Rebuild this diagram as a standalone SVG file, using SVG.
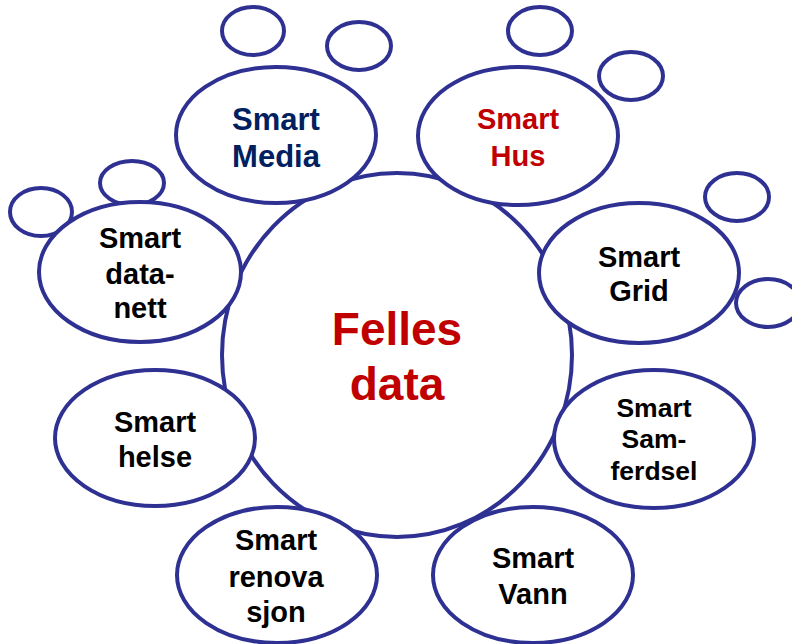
<svg xmlns="http://www.w3.org/2000/svg" width="792" height="644" viewBox="0 0 792 644">
<style>
.o{fill:#fff;stroke:#2E3192;stroke-width:4}
.t{font-family:"Liberation Sans",Arial,sans-serif;font-weight:bold;text-anchor:middle;fill:#000}
.s{font-size:29px}
</style>
<rect width="792" height="644" fill="#fff"/>
<g id="bubbles">
<ellipse class="o" cx="253" cy="31" rx="31" ry="24"/>
<ellipse class="o" cx="359" cy="46" rx="32" ry="24"/>
<ellipse class="o" cx="540" cy="31" rx="32" ry="24"/>
<ellipse class="o" cx="631" cy="76" rx="32" ry="24"/>
<ellipse class="o" cx="41" cy="212" rx="31" ry="24"/>
<ellipse class="o" cx="132" cy="183" rx="32" ry="22"/>
<ellipse class="o" cx="737" cy="197" rx="32" ry="24"/>
<ellipse class="o" cx="768" cy="303" rx="32" ry="24"/>
</g>
<g id="felles">
<ellipse class="o" cx="397" cy="355" rx="175" ry="182"/>
<text class="t" x="397" y="345" font-size="46" fill="#C00000" style="fill:#C00000">Felles</text>
<text class="t" x="397" y="400" font-size="46" style="fill:#C00000">data</text>
</g>
<g id="media">
<ellipse class="o" cx="276" cy="135" rx="100" ry="68"/>
<text class="t" x="276" y="130" font-size="31" style="fill:#002060">Smart</text>
<text class="t" x="276" y="167" font-size="31" style="fill:#002060">Media</text>
</g>
<g id="hus">
<ellipse class="o" cx="518" cy="136" rx="100" ry="69"/>
<text class="t s" x="518" y="129" style="fill:#C00000">Smart</text>
<text class="t s" x="518" y="166" style="fill:#C00000">Hus</text>
</g>
<g id="datanett">
<ellipse class="o" cx="140" cy="272" rx="101" ry="70"/>
<text class="t s" x="140" y="248">Smart</text>
<text class="t s" x="140" y="284">data-</text>
<text class="t s" x="140" y="318">nett</text>
</g>
<g id="helse">
<ellipse class="o" cx="155" cy="438" rx="100" ry="68"/>
<text class="t s" x="155" y="432">Smart</text>
<text class="t s" x="155" y="467">helse</text>
</g>
<g id="grid">
<ellipse class="o" cx="639" cy="273" rx="100" ry="70"/>
<text class="t s" x="639" y="267">Smart</text>
<text class="t s" x="639" y="301">Grid</text>
</g>
<g id="samferdsel">
<ellipse class="o" cx="654" cy="439" rx="100" ry="69"/>
<text class="t" x="654" y="417" font-size="26.5">Smart</text>
<text class="t" x="654" y="448" font-size="26.5">Sam-</text>
<text class="t" x="654" y="480" font-size="26.5">ferdsel</text>
</g>
<g id="renovasjon">
<ellipse class="o" cx="277" cy="575" rx="100" ry="68"/>
<text class="t s" x="276" y="550">Smart</text>
<text class="t s" x="276" y="587">renova</text>
<text class="t s" x="276" y="622">sjon</text>
</g>
<g id="vann">
<ellipse class="o" cx="533" cy="575" rx="100" ry="68"/>
<text class="t s" x="533" y="568">Smart</text>
<text class="t s" x="533" y="604">Vann</text>
</g>
<g id="connectors"/>
</svg>
